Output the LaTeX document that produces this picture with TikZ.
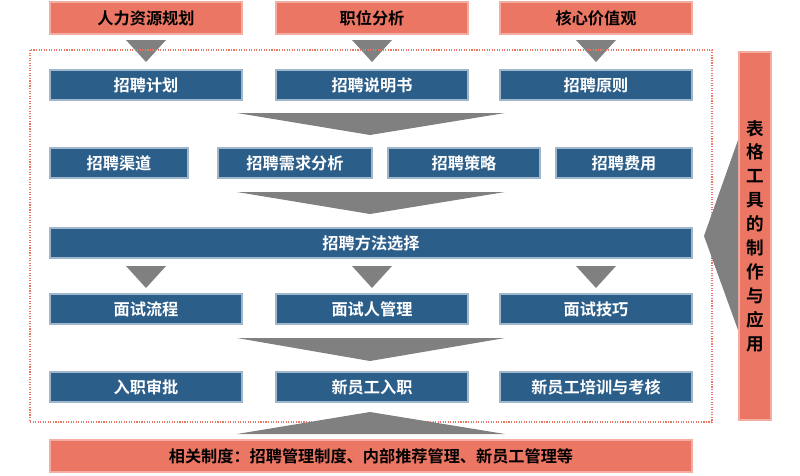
\documentclass[tikz,border=0pt]{standalone}
\usepackage{fontspec}
\setmainfont{Noto Sans CJK SC}[BoldFont={Noto Sans CJK SC Bold}]
\usetikzlibrary{positioning}
\definecolor{hrblue}{RGB}{44,94,138}
\definecolor{hrpink}{RGB}{236,118,100}
\definecolor{hrgray}{RGB}{128,128,128}
\tikzset{
  bluebox/.style={fill=hrblue, draw=hrblue!45!white, line width=1pt, text=white, font=\bfseries\fontsize{11.5}{13}\selectfont, minimum height=0.75cm, inner sep=0pt},
  pinkbox/.style={fill=hrpink, draw=hrpink!60!white, line width=1pt, text=black, font=\bfseries\fontsize{11.5}{13}\selectfont, minimum height=0.8cm, inner sep=0pt},
  arrowtri/.style={fill=hrgray}
}
\begin{document}
\begin{tikzpicture}[x=0.025cm,y=-0.025cm]
    \useasboundingbox (0,0) rectangle (800,475);

    % top inputs
    \node[pinkbox, minimum width=4.8cm] (plan) at (146,18) {人力资源规划};
    \node[pinkbox, minimum width=4.8cm] (job) at (372,18) {职位分析};
    \node[pinkbox, minimum width=4.8cm] (core) at (596,18) {核心价值观};
    \foreach \x in {146,372,596}
        \fill[arrowtri] (\x-20,40) -- (\x+20,40) -- (\x,62) -- cycle;

    % dotted frame
    \draw[hrpink, densely dotted, line width=0.8pt] (30,50) rectangle (712,422);

    % row 1
    \node[bluebox, minimum width=4.8cm] (jihua) at (146,85) {招聘计划};
    \node[bluebox, minimum width=4.8cm] (shuoming) at (372,85) {招聘说明书};
    \node[bluebox, minimum width=4.8cm] (yuanze) at (596,85) {招聘原则};
    \fill[arrowtri] (237,113) -- (505,113) -- (370,135) -- cycle;

    % row 2
    \node[bluebox, minimum width=3.45cm] (qudao) at (119,163) {招聘渠道};
    \node[bluebox, minimum width=3.85cm] (xuqiu) at (295,163) {招聘需求分析};
    \node[bluebox, minimum width=3.8cm] (celue) at (464,163) {招聘策略};
    \node[bluebox, minimum width=3.4cm] (feiyong) at (624,163) {招聘费用};
    \fill[arrowtri] (237,192) -- (505,192) -- (370,214) -- cycle;

    % row 3
    \node[bluebox, minimum width=16.05cm] (fangfa) at (371,243) {招聘方法选择};
    \foreach \x in {146,372,596}
        \fill[arrowtri] (\x-20,266) -- (\x+20,266) -- (\x,288) -- cycle;

    % row 4
    \node[bluebox, minimum width=4.8cm] (liucheng) at (146,309) {面试流程};
    \node[bluebox, minimum width=4.8cm] (guanli) at (372,309) {面试人管理};
    \node[bluebox, minimum width=4.8cm] (jiqiao) at (596,309) {面试技巧};
    \fill[arrowtri] (237,338) -- (505,338) -- (370,361) -- cycle;

    % row 5
    \node[bluebox, minimum width=4.8cm] (shenpi) at (146,387) {入职审批};
    \node[bluebox, minimum width=4.8cm] (ruzhi) at (372,387) {新员工入职};
    \node[bluebox, minimum width=4.8cm] (peixun) at (596,387) {新员工培训与考核};
    \fill[arrowtri] (237,434) -- (505,434) -- (370,412) -- cycle;

    % bottom
    \node[pinkbox, minimum width=16.05cm] (zhidu) at (371,456) {相关制度：招聘管理制度、内部推荐管理、新员工管理等};

    % right side
    \node[pinkbox, minimum width=0.8cm, minimum height=9.2cm, align=center, font=\bfseries\fontsize{12.5}{17}\selectfont] (biaoge) at (755,236)
        {表\\格\\工\\具\\的\\制\\作\\与\\应\\用};
    \fill[arrowtri] (738,140) -- (738,330) -- (704,236) -- cycle;
\end{tikzpicture}
\end{document}
